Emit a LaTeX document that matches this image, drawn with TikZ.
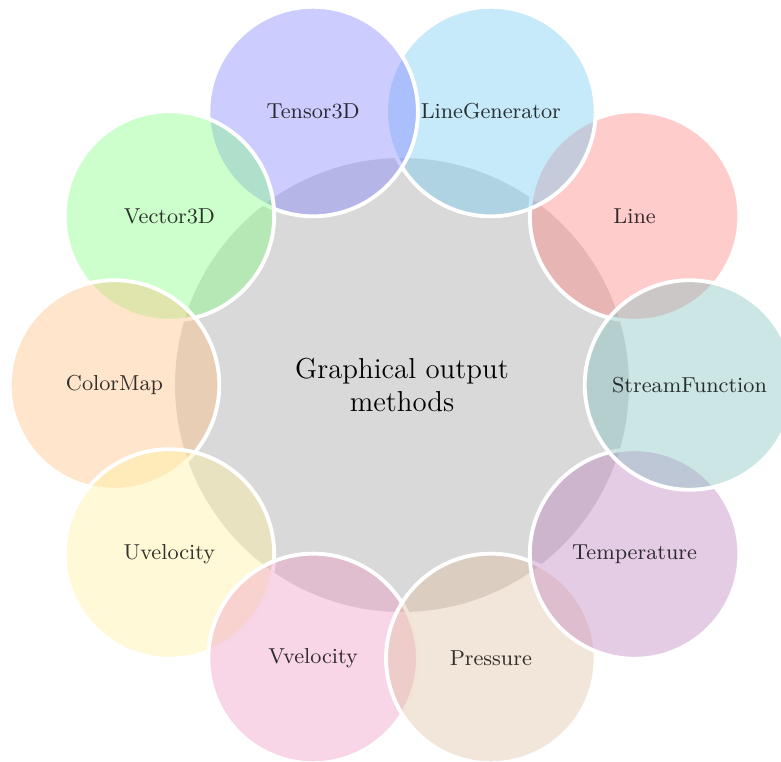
\documentclass[tikz,border=0pt]{standalone}
\usetikzlibrary{calc}
\definecolor{bubcyan}{RGB}{112,202,240}
\definecolor{bubmagenta}{RGB}{237,150,194}
\definecolor{bubyellow}{RGB}{255,241,158}
\begin{document}
\begin{tikzpicture}[x=0.4161pt, y=0.4161pt,
  hub/.style={circle, fill=gray!30, minimum size=188.9pt, inner sep=0pt,
    align=center, font=\large},
  bubble/.style={circle, fill=#1, fill opacity=0.4, draw=white, draw opacity=1,
    line width=1.6pt, minimum size=87.2pt, inner sep=0pt, align=center,
    font=\small, text opacity=0.8}]
\useasboundingbox (0,0) rectangle (781,762);
% central topic
\node[hub] (hub) at (402,377) {Graphical output\\methods};
% surrounding bubbles, drawn counter-clockwise
\foreach \ang/\col/\name/\txt in {
    36/red!50/line/Line,
    72/bubcyan/linegen/LineGenerator,
    108/blue!50/tensor/Tensor3D,
    144/green!50/vector/Vector3D,
    180/orange!50/cmap/ColorMap,
    216/bubyellow/uvel/Uvelocity,
    252/bubmagenta/vvel/Vvelocity,
    288/brown!50/press/Pressure,
    324/violet!50/temp/Temperature,
    360/teal!50/stream/StreamFunction}
  \node[bubble=\col] (\name) at ($(hub.center)+(\ang:287.5)$) {\txt};
\end{tikzpicture}
\end{document}
